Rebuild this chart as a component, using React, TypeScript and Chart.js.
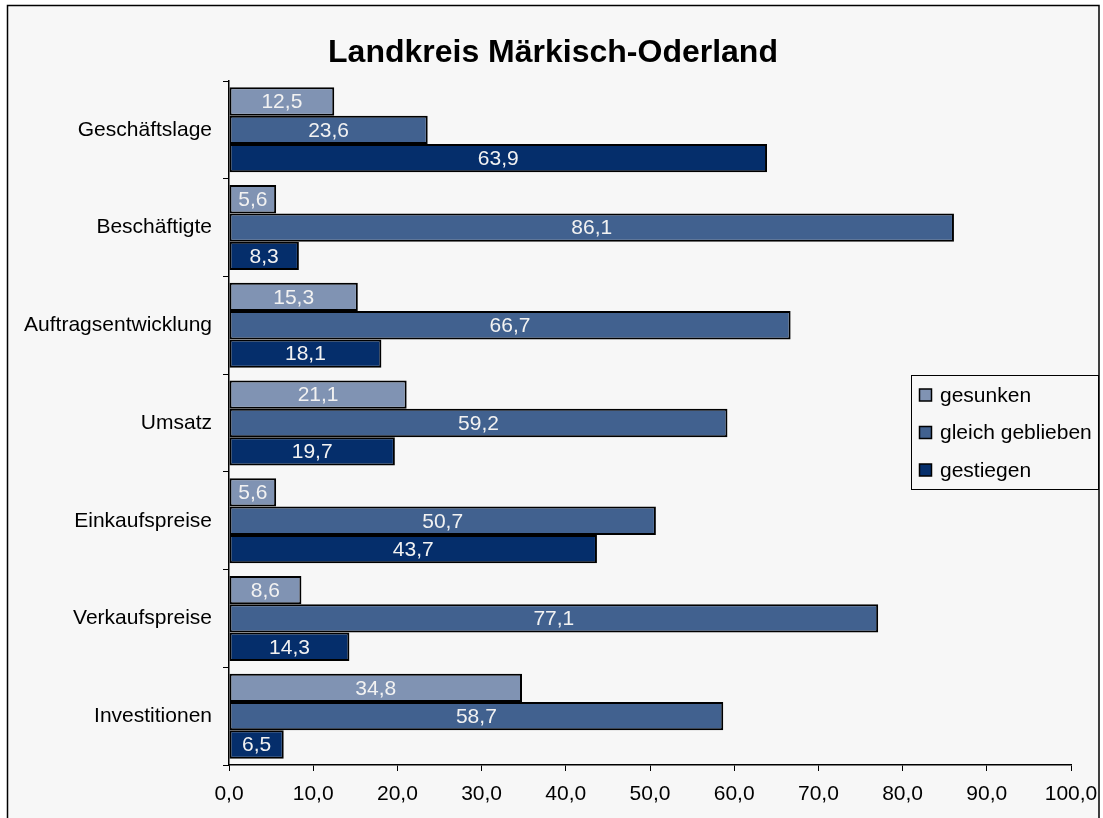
import React, { useEffect, useRef } from "react";
import { Chart, registerables } from "chart.js";

Chart.register(...registerables);

const TITLE = "Landkreis Märkisch-Oderland";
const categories = [
  "Geschäftslage",
  "Beschäftigte",
  "Auftragsentwicklung",
  "Umsatz",
  "Einkaufspreise",
  "Verkaufspreise",
  "Investitionen",
];
const seriesNames = ["gesunken", "gleich geblieben", "gestiegen"];
const gesunken = [12.5, 5.6, 15.3, 21.1, 5.6, 8.6, 34.8];
const gleichGeblieben = [23.6, 86.1, 66.7, 59.2, 50.7, 77.1, 58.7];
const gestiegen = [63.9, 8.3, 18.1, 19.7, 43.7, 14.3, 6.5];
const seriesColors = ["#8093b3", "#41618f", "#052e6b"];
const xTicks = [0, 10, 20, 30, 40, 50, 60, 70, 80, 90, 100];

const FONT = "'Liberation Sans', Arial, sans-serif";
const fmt = (v: number) => v.toFixed(1).replace(".", ",");

const framePlugin = {
  id: "frame",
  beforeDraw(chart: any) {
    const ctx = chart.ctx;
    ctx.save();
    ctx.fillStyle = "#ffffff";
    ctx.fillRect(0, 0, chart.width, chart.height);
    ctx.fillStyle = "#f7f7f7";
    ctx.fillRect(7, 5, 1092, chart.height - 5);
    ctx.strokeStyle = "#000000";
    ctx.lineWidth = 1.5;
    ctx.beginPath();
    ctx.moveTo(7.5, chart.height + 2);
    ctx.lineTo(7.5, 5.5);
    ctx.lineTo(1099, 5.5);
    ctx.lineTo(1099, chart.height + 2);
    ctx.stroke();
    ctx.restore();
  },
  afterDraw(chart: any) {
    const ctx = chart.ctx;
    ctx.save();
    // title
    ctx.fillStyle = "#000";
    ctx.font = `bold 32px ${FONT}`;
    ctx.textAlign = "center";
    ctx.textBaseline = "alphabetic";
    ctx.fillText(TITLE, 553, 62);
    // legend
    ctx.fillStyle = "#f7f7f7";
    ctx.fillRect(911.5, 375.5, 187, 114);
    ctx.strokeStyle = "#000";
    ctx.lineWidth = 1;
    ctx.strokeRect(911.5, 375.5, 187, 114);
    ctx.font = `21px ${FONT}`;
    ctx.textAlign = "left";
    ctx.textBaseline = "middle";
    seriesNames.forEach((name, i) => {
      const cy = 395 + i * 37.5;
      ctx.fillStyle = seriesColors[i];
      ctx.fillRect(919.5, cy - 6, 12, 12);
      ctx.strokeStyle = "#000";
      ctx.lineWidth = 1.5;
      ctx.strokeRect(919.5, cy - 6, 12, 12);
      ctx.fillStyle = "#000";
      ctx.fillText(name, 940, cy + 1);
    });
    ctx.restore();
  },
  afterDatasetsDraw(chart: any) {
    const ctx = chart.ctx;
    ctx.save();
    ctx.font = `21px ${FONT}`;
    ctx.fillStyle = "#f2f2f2";
    ctx.textAlign = "center";
    ctx.textBaseline = "middle";
    chart.data.datasets.forEach((ds: any, di: number) => {
      const meta = chart.getDatasetMeta(di);
      meta.data.forEach((bar: any, i: number) => {
        const x = (bar.base + bar.x) / 2;
        ctx.fillText(fmt(ds.data[i]), x, bar.y + 1);
      });
    });
    ctx.restore();
  },
};

export default function App() {
  const ref = useRef<HTMLCanvasElement>(null);
  useEffect(() => {
    document.body.style.margin = "0";
    document.body.style.overflow = "hidden";
    const chart = new Chart(ref.current!, {
      type: "bar",
      data: {
        labels: categories,
        datasets: [gesunken, gleichGeblieben, gestiegen].map((d, i) => ({
          label: seriesNames[i],
          data: d,
          backgroundColor: seriesColors[i],
          borderColor: "#000",
          borderWidth: 2,
          borderSkipped: false,
          categoryPercentage: 0.87,
          barPercentage: 1.0,
        })),
      },
      options: {
        indexAxis: "y",
        responsive: false,
        animation: false,
        layout: { padding: { left: 0, right: 32, top: 81, bottom: 0 } },
        plugins: {
          legend: { display: false },
          title: { display: false },
          tooltip: { enabled: false },
        },
        scales: {
          x: {
            min: 0,
            max: 100,
            afterBuildTicks: (scale: any) => {
              scale.ticks = xTicks.map((v) => ({ value: v }));
            },
            afterFit: (scale: any) => {
              scale.height = 53;
              scale.paddingLeft = 0;
              scale.paddingRight = 0;
            },
            ticks: {
              color: "#000",
              font: { family: FONT, size: 21 },
              padding: 11,
              maxRotation: 0,
              autoSkip: false,
              callback: (v: any) => fmt(Number(v)),
            },
            grid: {
              drawOnChartArea: false,
              drawTicks: true,
              tickLength: 6,
              color: "#000",
            },
            border: { display: true, color: "#000", width: 1.5 },
          },
          y: {
            offset: true,
            afterFit: (scale: any) => {
              scale.width = 229;
              scale.paddingTop = 0;
              scale.paddingBottom = 0;
            },
            ticks: {
              color: "#000",
              font: { family: FONT, size: 21 },
              padding: 11,
              autoSkip: false,
            },
            grid: {
              offset: true,
              drawOnChartArea: false,
              drawTicks: true,
              tickLength: 6,
              color: "#000",
            },
            border: { display: true, color: "#000", width: 1.5 },
          },
        },
      },
      plugins: [framePlugin],
    } as any);
    return () => chart.destroy();
  }, []);
  return (
    <div style={{ position: "absolute", left: 0, top: 0, width: 1103, height: 818 }}>
      <canvas ref={ref} width={1103} height={818} style={{ display: "block" }} />
    </div>
  );
}
